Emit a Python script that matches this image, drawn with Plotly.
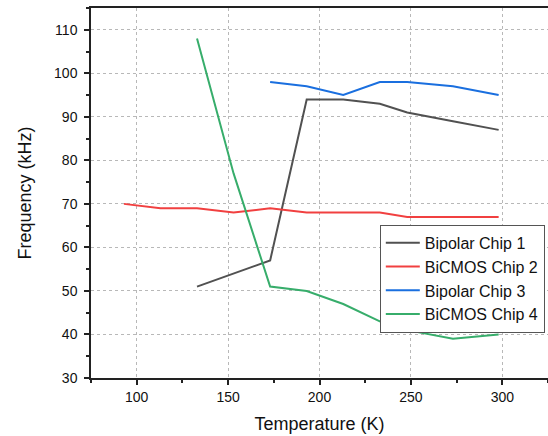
import plotly.graph_objects as go

temps_all = [93, 113, 133, 153, 173, 193, 213, 233, 248, 273, 298]
temps_133 = [133, 153, 173, 193, 213, 233, 248, 273, 298]
temps_c1 = [133, 173, 193, 213, 233, 248, 273, 298]
temps_173 = [173, 193, 213, 233, 248, 273, 298]

chip1 = [51, 57, 94, 94, 93, 91, 89, 87]
chip2 = [70, 69, 69, 68, 69, 68, 68, 68, 67, 67, 67]
chip3 = [98, 97, 95, 98, 98, 97, 95]
chip4 = [108, 77, 51, 50, 47, 43, 41, 39, 40]

names = ["Bipolar Chip 1", "BiCMOS Chip 2", "Bipolar Chip 3", "BiCMOS Chip 4"]
colors = ["#515151", "#F14040", "#1A6FDF", "#37AD6B"]

x_ticks = [100, 150, 200, 250, 300]
y_ticks = [30, 40, 50, 60, 70, 80, 90, 100, 110]

FONT = "Liberation Sans, Arial, sans-serif"

fig = go.Figure()
for xs, ys, n, c in zip([temps_c1, temps_all, temps_173, temps_133],
                        [chip1, chip2, chip3, chip4], names, colors):
    fig.add_trace(go.Scatter(x=xs, y=ys, mode="lines", name=n,
                             line=dict(color=c, width=2)))

xr = [75, 325]
yr = [30, 115]

common = dict(showline=True, linecolor="#222222", linewidth=1.5,
              tickcolor="#222222", tickwidth=1.5, zeroline=False,
              automargin=False)

fig.update_layout(
    width=548, height=436,
    margin=dict(l=91, r=0, t=8, b=58),
    paper_bgcolor="white", plot_bgcolor="white",
    font=dict(family=FONT, color="#111111"),
    showlegend=True,
    legend=dict(x=0.993, y=0.414, xanchor="right", yanchor="top",
                bordercolor="#555555", borderwidth=1, bgcolor="white",
                font=dict(size=16, family=FONT, color="#111111"),
                tracegroupgap=0, itemwidth=34),
    xaxis=dict(range=xr, tickvals=x_ticks, ticks="outside", ticklen=5,
               tickfont=dict(size=14), mirror=True,
               minor=dict(dtick=25, tick0=75, ticks="outside", ticklen=3,
                          tickcolor="#222222", showgrid=False),
               showgrid=True, gridcolor="#b8b8b8", gridwidth=1, griddash="3px,3px",
               title=dict(text="Temperature (K)", font=dict(size=18), standoff=14),
               **common),
    yaxis=dict(range=yr, tickvals=y_ticks, ticks="outside", ticklen=5,
               tickfont=dict(size=14), mirror=True, ticklabelstandoff=4,
               minor=dict(dtick=5, tick0=30, ticks="outside", ticklen=3,
                          tickcolor="#222222", showgrid=False),
               showgrid=True, gridcolor="#b8b8b8", gridwidth=1, griddash="3px,3px",
               title=dict(text="Frequency (kHz)", font=dict(size=18), standoff=18),
               **common),
    xaxis2=dict(range=xr, overlaying="x", side="top", tickvals=x_ticks,
                ticks="inside", ticklen=5, showticklabels=False, showgrid=False,
                minor=dict(dtick=25, tick0=75, ticks="inside", ticklen=3,
                           tickcolor="#222222"),
                **common),
    yaxis2=dict(range=yr, overlaying="y", side="right", tickvals=y_ticks,
                ticks="inside", ticklen=5, showticklabels=False, showgrid=False,
                minor=dict(dtick=5, tick0=30, ticks="inside", ticklen=3,
                           tickcolor="#222222"),
                **common),
)

fig.write_html("out.html", config={"displayModeBar": False},
               post_script="document.body.style.margin='0px';document.body.style.padding='0px';")
